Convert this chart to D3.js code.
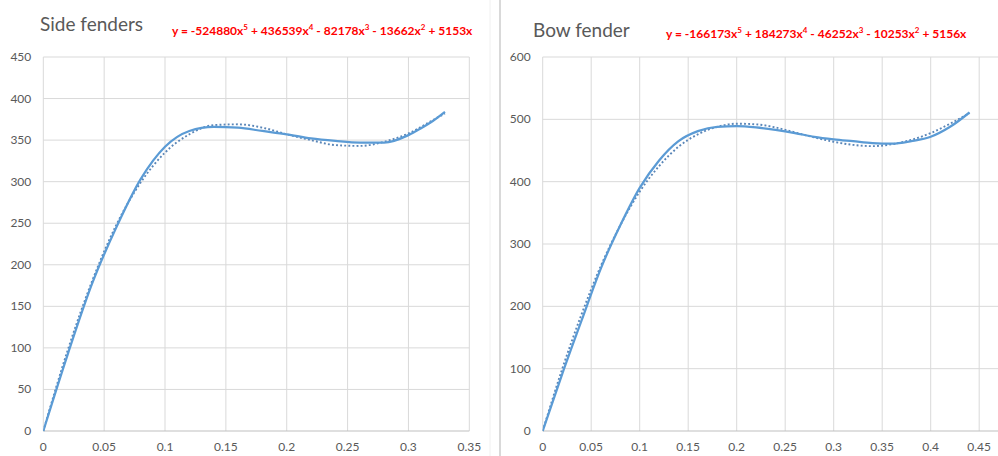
<!DOCTYPE html>
<html>
<head>
<meta charset="utf-8">
<script src="https://cdn.jsdelivr.net/npm/d3@7"></script>
<style>
  body { margin: 0; background: #fff; }
  svg text { font-family: Lato, "Open Sans", sans-serif; }
</style>
</head>
<body>
<div id="chart"></div>
<script>
// Side fenders: measured curve and its 5th order trendline
const sideX = [0, 0.02, 0.04, 0.06, 0.08, 0.10, 0.12, 0.14, 0.16, 0.18, 0.20, 0.22, 0.24, 0.26, 0.28, 0.30, 0.31, 0.32, 0.33];
const sideY = [0, 92, 177, 245, 303, 342, 361, 366, 365, 361, 357, 352, 349, 347, 347, 356, 364, 373, 384];
const sideTrendX = [0, 0.02, 0.04, 0.06, 0.08, 0.10, 0.12, 0.14, 0.16, 0.18, 0.20, 0.22, 0.24, 0.26, 0.28, 0.30, 0.32, 0.33];
const sideTrendY = [0, 97, 180, 248, 299, 335, 357, 368, 369, 365, 357, 350, 344, 343, 348, 358, 374, 382];

// Bow fender: measured curve and its 5th order trendline
const bowX = [0, 0.02, 0.04, 0.06, 0.08, 0.10, 0.12, 0.14, 0.16, 0.18, 0.20, 0.22, 0.24, 0.26, 0.28, 0.30, 0.32, 0.34, 0.36, 0.38, 0.40, 0.42, 0.44];
const bowY = [0, 91, 177, 261, 330, 390, 434, 465, 481, 488, 489, 487, 483, 478, 472, 468, 465, 462, 461, 465, 472, 488, 511];
const bowTrendX = bowX;
const bowTrendY = [0, 99, 187, 265, 330, 384, 425, 456, 476, 488, 493, 492, 487, 479, 471, 464, 459, 457, 460, 467, 478, 493, 510];

// Tick values
const sideXTicks = [0, 0.05, 0.1, 0.15, 0.2, 0.25, 0.3, 0.35];
const sideYTicks = [0, 50, 100, 150, 200, 250, 300, 350, 400, 450];
const bowXTicks = [0, 0.05, 0.1, 0.15, 0.2, 0.25, 0.3, 0.35, 0.4, 0.45];
const bowYTicks = [0, 100, 200, 300, 400, 500, 600];

// Titles and equations: [text, exponent] parts
const sideTitle = "Side fenders";
const sideEquation = [["y = -524880x", "5"], [" + 436539x", "4"], [" - 82178x", "3"], [" - 13662x", "2"], [" + 5153x", ""]];
const bowTitle = "Bow fender";
const bowEquation = [["y = -166173x", "5"], [" + 184273x", "4"], [" - 46252x", "3"], [" - 10253x", "2"], [" + 5156x", ""]];

const W = 998, H = 456;
const svg = d3.select("#chart").append("svg")
  .attr("width", W)
  .attr("height", H);

svg.append("rect").attr("width", W).attr("height", H).attr("fill", "#fff");

// panel separators
svg.append("line")
  .attr("x1", 490).attr("x2", 490).attr("y1", 0).attr("y2", H)
  .attr("stroke", "#f0f0f0").attr("stroke-width", 1);
svg.append("line")
  .attr("x1", 500).attr("x2", 500).attr("y1", 0).attr("y2", H)
  .attr("stroke", "#d9d9d9").attr("stroke-width", 2);

/**
 * Draw one panel: grid, axes labels, data line, dotted trendline, title and equation.
 */
function drawPanel(opts) {
  const g = svg.append("g");

  const x = d3.scaleLinear().domain(opts.xDomain).range(opts.xRange);
  const y = d3.scaleLinear().domain(opts.yDomain).range([431, 57]);

  // clip plot contents to the window
  const clipId = "clip-" + opts.id;
  g.append("defs").append("clipPath").attr("id", clipId)
    .append("rect")
    .attr("x", opts.xRange[0]).attr("y", 50)
    .attr("width", Math.min(opts.xRange[1], W) - opts.xRange[0])
    .attr("height", 390);

  // horizontal gridlines
  g.append("g").selectAll("line")
    .data(opts.yTicks.filter(d => d !== 0))
    .enter().append("line")
    .attr("x1", opts.xRange[0])
    .attr("x2", Math.min(opts.xRange[1], W))
    .attr("y1", d => y(d)).attr("y2", d => y(d))
    .attr("stroke", "#d9d9d9").attr("stroke-width", 1);

  // vertical gridlines
  g.append("g").selectAll("line")
    .data(opts.xTicks)
    .enter().append("line")
    .attr("x1", d => x(d)).attr("x2", d => x(d))
    .attr("y1", y(opts.yDomain[1])).attr("y2", y(0))
    .attr("stroke", "#d9d9d9").attr("stroke-width", 1);

  // x axis line
  g.append("line")
    .attr("x1", opts.xRange[0]).attr("x2", Math.min(opts.xRange[1], W))
    .attr("y1", y(0)).attr("y2", y(0))
    .attr("stroke", "#bfbfbf").attr("stroke-width", 1);

  // y tick labels
  g.append("g").selectAll("text")
    .data(opts.yTicks)
    .enter().append("text")
    .attr("x", opts.xRange[0] - 12)
    .attr("y", d => y(d) + 4)
    .attr("text-anchor", "end")
    .attr("font-size", 12)
    .attr("fill", "#595959")
    .text(d => d);

  // x tick labels
  g.append("g").selectAll("text")
    .data(opts.xTicks)
    .enter().append("text")
    .attr("x", d => x(d))
    .attr("y", 451)
    .attr("text-anchor", "middle")
    .attr("font-size", 12)
    .attr("fill", "#595959")
    .text(d => d);

  const plot = g.append("g").attr("clip-path", "url(#" + clipId + ")");

  // trendline (dotted)
  const trendLine = d3.line()
    .x((d, i) => x(opts.trendX[i]))
    .y(d => y(d))
    .curve(d3.curveMonotoneX);
  plot.append("path")
    .datum(opts.trendY)
    .attr("d", trendLine)
    .attr("fill", "none")
    .attr("stroke", "#5a86b8")
    .attr("stroke-width", 1.9)
    .attr("stroke-dasharray", "1.9,2.2");

  // measured curve
  const dataLine = d3.line()
    .x((d, i) => x(opts.dataX[i]))
    .y(d => y(d))
    .curve(d3.curveMonotoneX);
  plot.append("path")
    .datum(opts.dataY)
    .attr("d", dataLine)
    .attr("fill", "none")
    .attr("stroke", "#5b9bd5")
    .attr("stroke-width", 2.25)
    .attr("stroke-linejoin", "round");

  // title
  g.append("text")
    .attr("x", opts.titleX)
    .attr("y", opts.titleY)
    .attr("font-size", 19)
    .attr("fill", "#595959")
    .text(opts.title);

  // trendline equation with superscripts
  const eq = g.append("text")
    .attr("x", opts.eqX)
    .attr("y", opts.eqY)
    .attr("font-size", 12)
    .attr("font-weight", "bold")
    .attr("fill", "#ff0000");
  var shift = 0; // baseline offset left over from the previous superscript
  opts.equation.forEach(function (part) {
    eq.append("tspan").attr("dy", shift).text(part[0]);
    shift = 0;
    if (part[1] !== "") {
      eq.append("tspan")
        .attr("font-size", 8)
        .attr("dy", -5)
        .text(part[1]);
      shift = 5;
    }
  });
}

drawPanel({
  id: "side",
  xDomain: [0, 0.35], xRange: [43.3, 469.3],
  yDomain: [0, 450],
  xTicks: sideXTicks, yTicks: sideYTicks,
  dataX: sideX, dataY: sideY,
  trendX: sideTrendX, trendY: sideTrendY,
  title: sideTitle, titleX: 40, titleY: 31,
  equation: sideEquation, eqX: 172, eqY: 35
});

drawPanel({
  id: "bow",
  xDomain: [0, 0.5], xRange: [542.7, 1027.7],
  yDomain: [0, 600],
  xTicks: bowXTicks, yTicks: bowYTicks,
  dataX: bowX, dataY: bowY,
  trendX: bowTrendX, trendY: bowTrendY,
  title: bowTitle, titleX: 533, titleY: 37,
  equation: bowEquation, eqX: 666, eqY: 38
});
</script>
</body>
</html>
